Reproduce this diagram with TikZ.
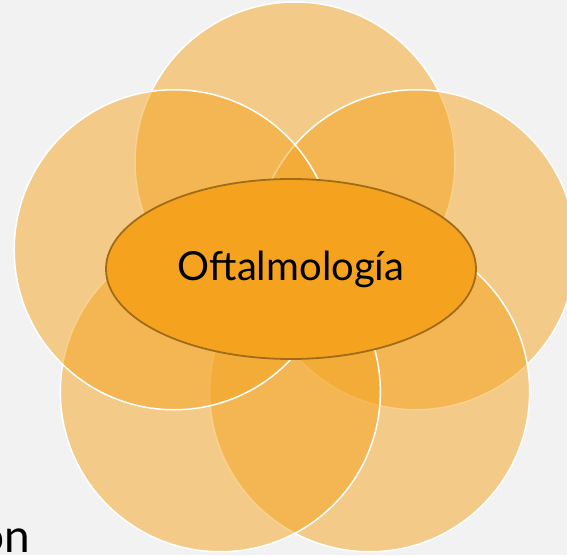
\documentclass[tikz,border=0pt]{standalone}
\usepackage{fontspec}
\setmainfont{Lato}
\usetikzlibrary{shapes.geometric}
\usetikzlibrary{calc}

\definecolor{slidebg}{HTML}{F2F2F2}
\definecolor{petalorange}{HTML}{F5A31F}
\definecolor{hubborder}{HTML}{A06C18}

\begin{document}
\begin{tikzpicture}[x=1pt,y=1pt,
	petal/.style={circle,minimum size=320pt,inner sep=0pt,fill=petalorange,fill opacity=0.5,draw=white,line width=1.5pt},
	hub/.style={ellipse,minimum width=370pt,minimum height=180pt,inner sep=0pt,fill=petalorange,draw=hubborder,line width=1.8pt,font=\fontsize{40}{48}\selectfont}]

	% background
	\fill[slidebg] (0,0) rectangle (567,555);
	\useasboundingbox (0,0) rectangle (567,555);
	\clip (0,0) rectangle (567,555);

	% petals
	\coordinate (mid) at (295,266);
	\foreach \ang/\name in {90/top,18/right,-54/botright,-126/botleft,162/left}
		\node[petal] (\name) at ($(mid)+(\ang:127)$) {};

	% centre
	\node[hub] (ofta) at (291,286) {Oftalmología};

	% cut-off text at the left border
	\node[anchor=base east,inner sep=0pt,font=\fontsize{46}{54}\selectfont] (tail) at (30,3) {ón};

\end{tikzpicture}
\end{document}
